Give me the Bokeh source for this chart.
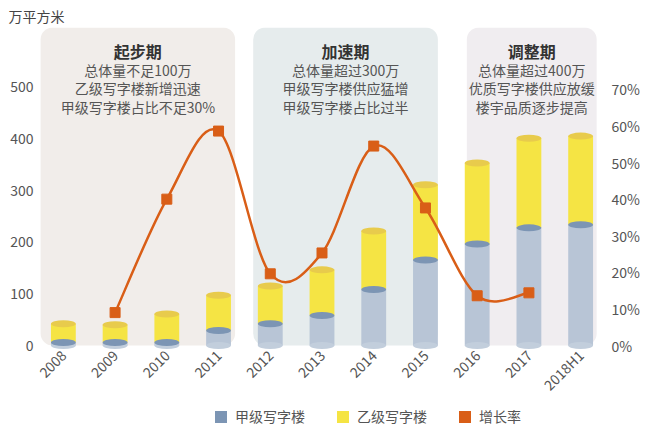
import math
from bokeh.plotting import figure
from bokeh.layouts import column
from bokeh.models import (Range1d, LinearAxis, FixedTicker, PrintfTickFormatter,
                          Legend, LegendItem)
from bokeh.core.properties import value
from bokeh.embed import file_html
from bokeh.resources import INLINE

# ---------------- data ----------------
years = ["2008", "2009", "2010", "2011", "2012", "2013", "2014", "2015", "2016", "2017", "2018H1"]
grade_a = [6, 6, 6, 29, 42, 58, 108, 165, 196, 227, 233]          # 甲级写字楼 (万平方米)
total_stock = [42, 40, 61, 97, 115, 146, 221, 310, 352, 400, 404]  # 甲级 + 乙级
grade_b = [t - a for t, a in zip(total_stock, grade_a)]            # 乙级写字楼
growth_years = ["2009", "2010", "2011", "2012", "2013", "2014", "2015", "2016", "2017"]
growth_rate = [9.0, 40.0, 58.6, 19.6, 25.3, 54.5, 37.6, 13.6, 14.4]  # 增长率 (%)

left_ticks = [0, 100, 200, 300, 400, 500]
right_ticks = [0, 10, 20, 30, 40, 50, 60, 70]

phase_names = ["起步期", "加速期", "调整期"]
phase_notes = [
    ["总体量不足100万", "乙级写字楼新增迅速", "甲级写字楼占比不足30%"],
    ["总体量超过300万", "甲级写字楼供应猛增", "甲级写字楼占比过半"],
    ["总体量超过400万", "优质写字楼供应放缓", "楼宇品质逐步提高"],
]
series_names = ["甲级写字楼", "乙级写字楼", "增长率"]
unit_label = "万平方米"

# ---------------- layout / style ----------------
FONT = "Noto Sans CJK SC"
phase_left = [-0.44, 3.67, 7.80]
phase_right = [3.32, 7.24, 10.31]
phase_colors = ["#F1EDEA", "#E6ECED", "#F0EDF0"]
phase_text_y = [569, 531, 496, 460]
Y_TOP = 613.5
BAR_W = 0.48

c_a_body = "#B8C5D6"
c_a_top = "#7C95B4"
c_b_body = "#F5E444"
c_b_top = "#E8CB4C"
c_base = "#C2CEDC"
c_line = "#D95E17"

x_idx = list(range(len(years)))
g_idx = [years.index(y) for y in growth_years]

p = figure(width=642, height=404, x_range=Range1d(-0.5, 10.5), y_range=Range1d(-11.5, Y_TOP),
           output_backend="svg", toolbar_location=None,
           min_border_left=37, min_border_right=35, min_border_top=27, min_border_bottom=52)
p.outline_line_color = None
p.background_fill_color = "white"
p.border_fill_color = "white"
p.xgrid.visible = False
p.ygrid.visible = False
p.extra_y_ranges = {"right": Range1d(-1.63, 86.9)}

# title (unit)
p.title.text = unit_label
p.title.align = "left"
p.title.offset = -29
p.title.standoff = 4
p.title.text_font = FONT
p.title.text_font_size = "14px"
p.title.text_font_style = "normal"
p.title.text_color = "#444444"

# phase panels
p.quad(left=phase_left, right=phase_right, bottom=0, top=Y_TOP, fill_color=phase_colors,
       line_color=None, border_radius=12)

# cylinders
p.vbar(x=x_idx, bottom=0, top=grade_a, width=BAR_W, fill_color=c_a_body, line_color=None)
p.ellipse(x=x_idx, y=[0] * len(x_idx), width=BAR_W, height=7, height_units="screen",
          fill_color=c_base, line_color=None)
p.vbar(x=x_idx, bottom=grade_a, top=total_stock, width=BAR_W, fill_color=c_b_body, line_color=None)
p.ellipse(x=x_idx, y=grade_a, width=BAR_W, height=7, height_units="screen",
          fill_color=c_a_top, line_color=None)
p.ellipse(x=x_idx, y=total_stock, width=BAR_W, height=7, height_units="screen",
          fill_color=c_b_top, line_color=None)

# smooth growth curve (Catmull-Rom -> cubic Bezier through the data points)
n = len(g_idx)
x0s, y0s, x1s, y1s, cx0s, cy0s, cx1s, cy1s = [], [], [], [], [], [], [], []
for i in range(n - 1):
    pa = (g_idx[max(i - 1, 0)], growth_rate[max(i - 1, 0)])
    pb = (g_idx[i], growth_rate[i])
    pc = (g_idx[i + 1], growth_rate[i + 1])
    pd = (g_idx[min(i + 2, n - 1)], growth_rate[min(i + 2, n - 1)])
    x0s.append(pb[0]); y0s.append(pb[1]); x1s.append(pc[0]); y1s.append(pc[1])
    cx0s.append(pb[0] + (pc[0] - pa[0]) / 6); cy0s.append(pb[1] + (pc[1] - pa[1]) / 6)
    cx1s.append(pc[0] - (pd[0] - pb[0]) / 6); cy1s.append(pc[1] - (pd[1] - pb[1]) / 6)
p.bezier(x0=x0s, y0=y0s, x1=x1s, y1=y1s, cx0=cx0s, cy0=cy0s, cx1=cx1s, cy1=cy1s,
         line_color=c_line, line_width=2.5, y_range_name="right")
p.scatter(x=g_idx, y=growth_rate, marker="square", size=10, fill_color=c_line,
          line_color=c_line, y_range_name="right")

# phase texts
for k, name in enumerate(phase_names):
    cx = (phase_left[k] + phase_right[k]) / 2
    p.text(x=[cx], y=[phase_text_y[0]], text=[name], text_font=value(FONT), text_font_size="16px",
           text_font_style="bold", text_color="#333333", text_align="center", text_baseline="middle")
    p.text(x=[cx] * 3, y=phase_text_y[1:], text=phase_notes[k], text_font=value(FONT),
           text_font_size="14px", text_color="#555555", text_align="center", text_baseline="middle")

# axes
yax = p.yaxis[0]
yax.ticker = FixedTicker(ticks=left_ticks)
xax = p.xaxis[0]
xax.ticker = FixedTicker(ticks=x_idx)
xax.major_label_overrides = {i: y for i, y in enumerate(years)}
xax.major_label_orientation = math.pi / 4
rax = LinearAxis(y_range_name="right", ticker=FixedTicker(ticks=right_ticks),
                 formatter=PrintfTickFormatter(format="%d%%"))
p.add_layout(rax, "right")
for ax in (xax, yax, rax):
    ax.axis_line_color = None
    ax.major_tick_line_color = None
    ax.minor_tick_line_color = None
    ax.major_tick_out = 0
    ax.major_tick_in = 0
    ax.major_label_text_font = FONT
    ax.major_label_text_font_size = "14px"
    ax.major_label_text_color = "#555555"
yax.major_label_standoff = 4
rax.major_label_standoff = 5
xax.major_label_standoff = 1

# legend strip (separate small figure below the chart)
lg = figure(width=642, height=26, x_range=Range1d(0, 1), y_range=Range1d(0, 1),
            output_backend="svg", toolbar_location=None,
            min_border_left=0, min_border_right=0, min_border_top=0, min_border_bottom=0)
lg.axis.visible = False
lg.grid.visible = False
lg.outline_line_color = None
lg.background_fill_color = "white"
lg.border_fill_color = "white"
proxy_colors = [c_a_top, c_b_body, c_line]
items = []
for name, col in zip(series_names, proxy_colors):
    r = lg.quad(left=[2], right=[3], bottom=[2], top=[3], fill_color=col, line_color=None)
    items.append(LegendItem(label=name, renderers=[r]))
legend = Legend(items=items, orientation="horizontal", location=(176, 4),
                glyph_width=15, glyph_height=15, label_standoff=7, spacing=30,
                padding=0, margin=0, border_line_color=None, background_fill_alpha=0,
                label_text_font=FONT, label_text_font_size="14px", label_text_color="#555555")
lg.add_layout(legend)

open("out.html", "w").write(file_html(column(p, lg, spacing=0), INLINE))
